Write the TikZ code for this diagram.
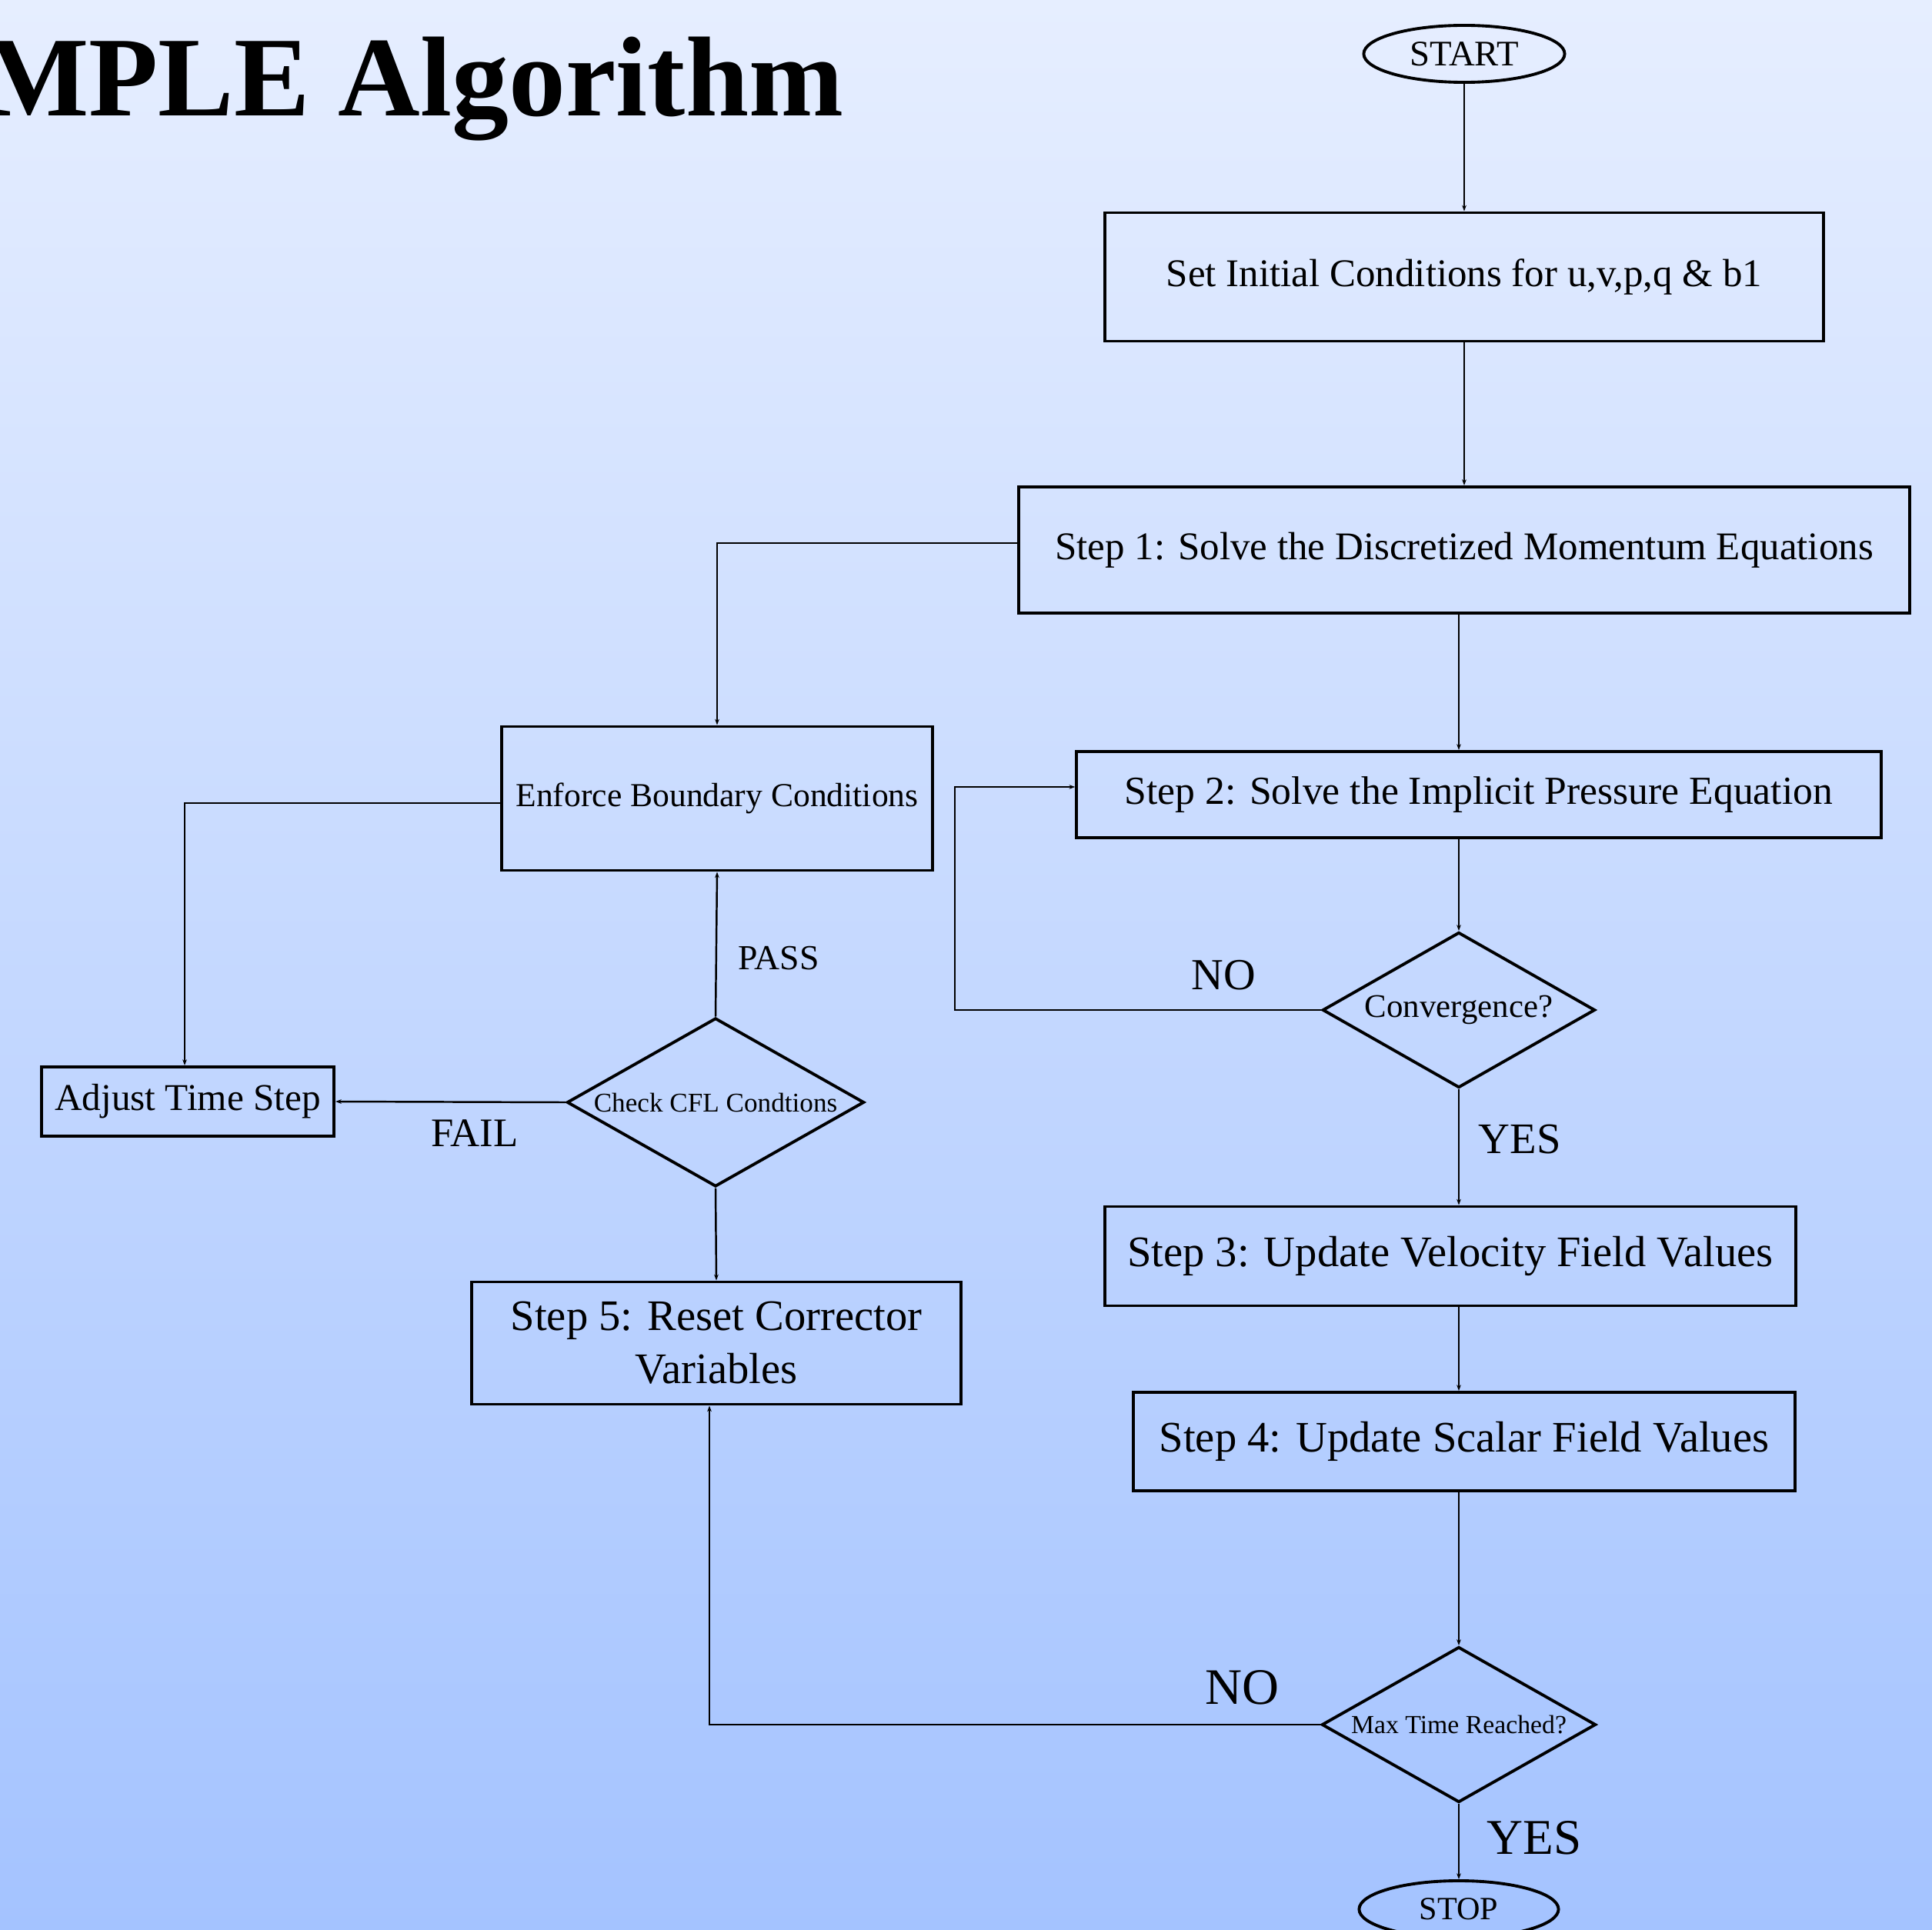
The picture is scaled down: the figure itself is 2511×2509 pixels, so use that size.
\documentclass[tikz,border=0pt]{standalone}
\usepackage{fontspec}
\setmainfont{Liberation Serif}
\usetikzlibrary{shapes.geometric,arrows.meta}
\definecolor{bgtop}{RGB}{230,238,255}
\definecolor{bgbot}{RGB}{164,195,255}
\newcommand{\fs}[2]{\fontsize{#1}{#2}\selectfont}
\begin{document}
\begin{tikzpicture}[x=0.01cm,y=-0.01cm,
  box/.style={draw,line width=1.1pt,rectangle,inner sep=0pt,align=center},
  dia/.style={draw,line width=1.1pt,diamond,inner sep=0pt,align=center,shape aspect=1.76},
  term/.style={draw,line width=1.1pt,ellipse,inner sep=0pt},
  conn/.style={line width=0.7pt},
  tip/.style={-{Stealth[length=2.2pt,width=1.6pt]}},
  lbl/.style={inner sep=0pt}]
\shade[top color=bgtop,bottom color=bgbot] (0,0) rectangle (2511,2509);
\useasboundingbox (0,0) rectangle (2511,2509);

\node[anchor=base east,inner sep=0pt,font=\bfseries\fs{42}{50}] (title) at (1097,151) {SIMPLE Algorithm};

\node[term,minimum width=2.61cm,minimum height=0.74cm,font=\fs{13.3}{16}] (start) at (1903,70) {START};
\node[box,minimum width=9.34cm,minimum height=1.67cm,font=\fs{14.5}{17}] (b1) at (1903,360) {Set Initial Conditions for u,v,p,q \& b1};
\node[box,minimum width=11.58cm,minimum height=1.64cm,font=\fs{14.5}{17}] (b2) at (1903,715) {Step 1: Solve the Discretized Momentum Equations};
\node[box,minimum width=10.45cm,minimum height=1.12cm,font=\fs{14.7}{17}] (b3) at (1922,1033) {Step 2: Solve the Implicit Pressure Equation};
\node[dia,minimum width=3.54cm,minimum height=2.02cm,font=\fs{12.2}{14}] (conv) at (1896,1313) {Convergence?};
\node[box,minimum width=8.97cm,minimum height=1.29cm,font=\fs{16.1}{19}] (s3) at (1885,1633) {Step 3: Update Velocity Field Values};
\node[box,minimum width=8.60cm,minimum height=1.28cm,font=\fs{16.1}{19}] (s4) at (1903,1874) {Step 4: Update Scalar Field Values};
\node[dia,minimum width=3.56cm,minimum height=2.02cm,font=\fs{9.6}{12}] (maxt) at (1896,2242) {Max Time Reached?};
\node[term,minimum width=2.59cm,minimum height=0.74cm,font=\fs{12}{14}] (stop) at (1896,2482) {STOP};

\node[box,minimum width=6.36cm,minimum height=1.59cm,font=\fs{16.1}{19.6}] (s5) at (931,1746) {Step 5: Reset Corrector\\Variables};
\node[dia,minimum width=3.86cm,minimum height=2.19cm,font=\fs{10}{12}] (cfl) at (930,1433) {Check CFL Condtions};
\node[box,minimum width=5.60cm,minimum height=1.87cm,font=\fs{12.4}{15}] (enf) at (932,1038) {Enforce Boundary Conditions};
\node[box,minimum width=3.80cm,minimum height=0.90cm,font=\fs{14}{17}] (adj) at (244,1432) {Adjust Time Step};

\coordinate (nc) at (1241,1023);
\coordinate (c1) at (932,706);
\coordinate (c2) at (240,1044);
\coordinate (c3) at (922,2242);

\draw[conn,tip] (start.south) -- (b1.north);
\draw[conn,tip] (b1.south) -- (b2.north);
\draw[conn,tip] (c1 -| b2.west) -- (c1) -- (c1 |- enf.north);
\draw[conn,tip] (conv |- b2.south) -- (conv |- b3.north);
\draw[conn,tip] (conv |- b3.south) -- (conv.north);
\draw[conn,tip] (conv.west) -| (nc) -- (nc -| b3.west);
\draw[conn,tip] (conv.south) -- (conv |- s3.north);
\draw[conn,tip] (conv |- s3.south) -- (conv |- s4.north);
\draw[conn,tip] (conv |- s4.south) -- (maxt.north);
\draw[conn,tip] (maxt.west) -- (c3) -- (c3 |- s5.south);
\draw[conn,tip] (maxt.south) -- (stop.north);
\draw[conn,tip] (cfl.south) -- (s5.north);
\draw[conn,tip] (cfl.north) -- (enf.south);
\draw[conn,tip] (c2 -| enf.west) -- (c2) -- (c2 |- adj.north);
\draw[conn,tip] (cfl.west) -- (adj.east);

\node[lbl,font=\fs{16.4}{19}] (no1) at (1590,1268) {NO};
\node[lbl,font=\fs{16.1}{19}] (yes1) at (1975,1481) {YES};
\node[lbl,font=\fs{18.9}{22}] (no2) at (1614,2194) {NO};
\node[lbl,font=\fs{18.5}{22}] (yes2) at (1994,2389) {YES};
\node[lbl,font=\fs{13}{16}] (pass) at (1012,1246) {PASS};
\node[lbl,font=\fs{15}{18}] (fail) at (617,1473) {FAIL};
\end{tikzpicture}
\end{document}
